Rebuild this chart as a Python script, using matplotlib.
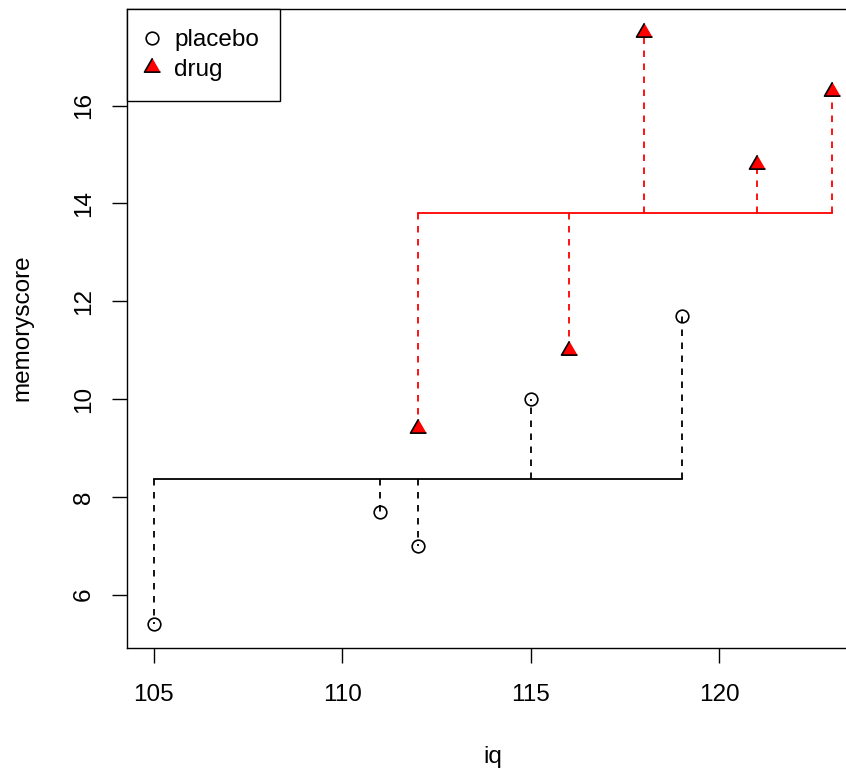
import matplotlib
matplotlib.use('Agg')
from matplotlib import pyplot as plt
from matplotlib.lines import Line2D

plt.rcParams['font.family'] = ['Liberation Sans', 'DejaVu Sans']

# placebo group
placebo_iq = [105, 111, 112, 115, 119]
placebo_score = [5.4, 7.7, 7.0, 10.0, 11.7]

# drug group
drug_iq = [112, 116, 118, 121, 123]
drug_score = [9.4, 11.0, 17.5, 14.8, 16.3]

x_ticks = [105, 110, 115, 120]
y_ticks = [6, 8, 10, 12, 14, 16]

FS = 17.5
LW = 1.3
TRI = [(0, 1), (-0.866, -0.5), (0.866, -0.5)]


def r_range(vals):
    # R-style 4% axis padding
    lo, hi = min(vals), max(vals)
    pad = (hi - lo) * 0.04
    return lo - pad, hi + pad


def draw_group(ax, xs, ys, color, marker_kw):
    mean = sum(ys) / len(ys)
    ax.plot([min(xs), max(xs)], [mean, mean], color=color, lw=LW, zorder=2)
    for x, y in zip(xs, ys):
        ax.plot([x, x], [mean, y], color=color, lw=LW, linestyle=(0, (3.6, 3.6)), zorder=2)
    ax.plot(xs, ys, linestyle='none', zorder=3, **marker_kw)


fig = plt.figure(figsize=(8.46, 7.71), dpi=100)
ax = fig.add_axes([0.14976, 0.15992, 0.86631, 0.82905])

circle_kw = dict(marker='o', markersize=9.1, markerfacecolor='none',
                 markeredgecolor='black', markeredgewidth=1.2)
tri_kw = dict(marker=TRI, markersize=13.3, markerfacecolor='red',
              markeredgecolor='black', markeredgewidth=1.2)

draw_group(ax, placebo_iq, placebo_score, 'black', circle_kw)
draw_group(ax, drug_iq, drug_score, 'red', tri_kw)

ax.set_xlim(*r_range(placebo_iq + drug_iq))
ax.set_ylim(*r_range(placebo_score + drug_score))
ax.set_xticks(x_ticks)
ax.set_yticks(y_ticks)
ax.set_xticklabels([str(t) for t in x_ticks], fontsize=FS)
ax.set_yticklabels([str(t) for t in y_ticks], fontsize=FS, rotation=90, va='center')
ax.tick_params(axis='both', direction='out', length=10.8, width=1)
ax.tick_params(axis='x', pad=15)
ax.tick_params(axis='y', pad=12)
for s in ax.spines.values():
    s.set_linewidth(1)

fig.text(493 / 846, 1 - 763 / 771, 'iq', fontsize=FS, ha='center', va='baseline')
fig.text(22 / 846, 1 - 328 / 771, 'memoryscore', fontsize=FS, rotation=90,
         ha='center', va='center')

handles = [Line2D([], [], linestyle='none', **circle_kw),
           Line2D([], [], linestyle='none', **tri_kw)]
leg = ax.legend(handles, ['placebo', 'drug'], loc='upper left', fontsize=FS,
                borderaxespad=0, fancybox=False, edgecolor='black', framealpha=1,
                borderpad=0.85, labelspacing=0.31, handlelength=0.35,
                handletextpad=0.745, markerscale=1)
leg.get_frame().set_linewidth(1)

fig.savefig('out.png', dpi=100)
